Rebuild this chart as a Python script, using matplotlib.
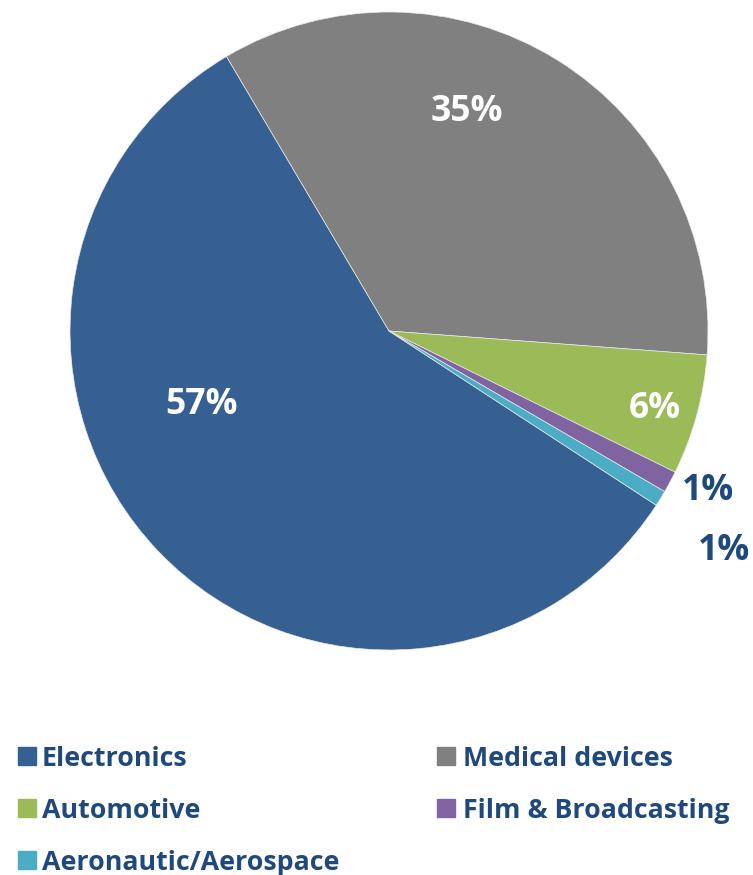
import matplotlib.pyplot as plt
from matplotlib.patches import Rectangle

# market share by application
sectors = ['Electronics', 'Medical devices', 'Automotive',
           'Film & Broadcasting', 'Aeronautic/Aerospace']
shares = [57.3, 34.7, 6.1, 1.1, 0.8]
colors = ['#376092', '#808080', '#9BBB59', '#8064A2', '#4BACC6']

# where each percentage goes (pie radius = 1) and its colour
label_pos = [(-0.589, -0.219), (0.245, 0.702), (0.834, -0.229),
             (1.0, -0.489), (1.05, -0.674)]
label_col = ['white', 'white', 'white', '#1F497D', '#1F497D']

navy = '#1F497D'
font = 'Open Sans'

W, H = 753, 875
fig = plt.figure(figsize=(W/100, H/100), dpi=100)

cx, cy, r = 389, 331, 319
ax = fig.add_axes([(cx-r)/W, (H-cy-r)/H, 2*r/W, 2*r/H])
wedges, _ = ax.pie(shares, colors=colors, startangle=-33.1, counterclock=False,
                   radius=1, wedgeprops=dict(linewidth=0.5, edgecolor='#E8E8E8'))
ax.set_xlim(-1, 1)
ax.set_ylim(-1, 1)
ax.set_aspect('equal')
ax.axis('off')

for v, (x, y), c in zip(shares, label_pos, label_col):
    ax.text(x, y, '%d%%' % round(v), ha='center', va='center_baseline', color=c,
            fontsize=25.5, fontweight='bold', family=font, clip_on=False)

# legend in two columns below the pie
rows = [756, 808, 860]
cols = [(18, 42), (437, 463)]
for i, (name, c) in enumerate(zip(sectors, colors)):
    mx, tx = cols[i % 2]
    y = rows[i // 2]
    fig.patches.append(Rectangle((mx/W, (H-y-9)/H), 18/W, 18/H,
                                 transform=fig.transFigure, color=c))
    fig.text(tx/W, (H-y)/H, name, ha='left', va='center_baseline', color=navy,
             fontsize=19.3, fontweight='bold', family=font)

fig.savefig('out.png', dpi=100)
